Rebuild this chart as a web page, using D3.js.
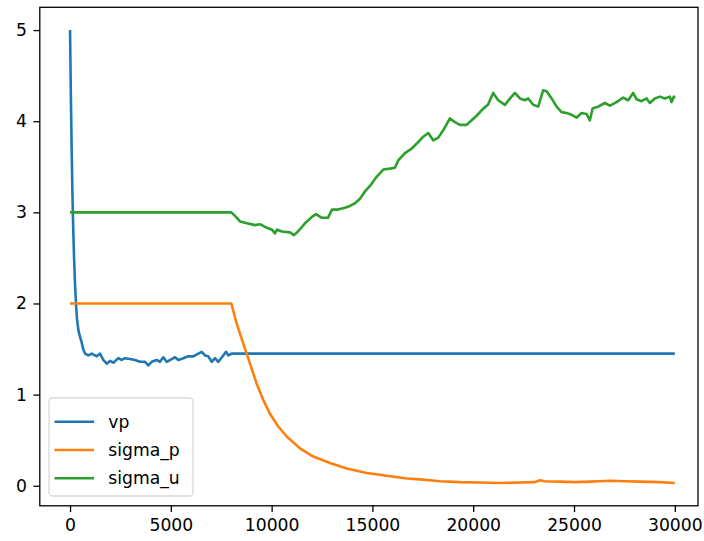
<!DOCTYPE html>
<html>
<head>
<meta charset="utf-8">
<script src="https://cdn.jsdelivr.net/npm/d3@7"></script>
<style>
  html, body { margin: 0; padding: 0; background: #fff; }
  svg { display: block; }
  text { font-family: "DejaVu Sans", sans-serif; }
</style>
</head>
<body>
<svg id="chart" width="704" height="541"></svg>
<script>
// vp: fast decay from 5, noisy plateau, then held constant
const vpX = [0, 40, 80, 120, 160, 200, 250, 300, 350, 420, 500, 580, 650, 744, 907, 1076, 1324, 1488, 1651, 1820, 1984, 2147, 2395, 2564, 2727, 2975, 3223, 3471, 3719, 3883, 4052, 4300, 4463, 4627, 4795, 5043, 5207, 5371, 5619, 5866, 6115, 6362, 6531, 6695, 6858, 7027, 7191, 7354, 7602, 7736, 7850, 8019, 30000];
const vpY = [5.0, 4.3, 3.7, 3.2, 2.8, 2.5, 2.2, 1.98, 1.82, 1.70, 1.63, 1.57, 1.50, 1.45, 1.43, 1.45, 1.42, 1.45, 1.38, 1.34, 1.37, 1.35, 1.40, 1.38, 1.40, 1.39, 1.38, 1.36, 1.36, 1.32, 1.36, 1.38, 1.36, 1.41, 1.36, 1.39, 1.41, 1.38, 1.40, 1.42, 1.42, 1.45, 1.47, 1.43, 1.42, 1.36, 1.40, 1.36, 1.43, 1.47, 1.43, 1.45, 1.45];

// sigma_p: constant at 2, then decays toward zero
const sigmaPX = [0, 8000, 8267, 8594, 8926, 9258, 9586, 9918, 10330, 10746, 11406, 12065, 12893, 13722, 14714, 15705, 16697, 17357, 18350, 19340, 20330, 21320, 22316, 23050, 23307, 23550, 24300, 25050, 25790, 26280, 26780, 27520, 28270, 29260, 30000];
const sigmaPY = [2.0, 2.0, 1.78, 1.56, 1.34, 1.12, 0.94, 0.79, 0.65, 0.54, 0.41, 0.32, 0.25, 0.19, 0.14, 0.11, 0.08, 0.07, 0.05, 0.04, 0.035, 0.03, 0.035, 0.04, 0.06, 0.05, 0.045, 0.04, 0.045, 0.05, 0.055, 0.05, 0.045, 0.04, 0.03];

// sigma_u: constant at 3, then wanders upward
const sigmaUX = [0, 8000, 8232, 8430, 8777, 9174, 9422, 9670, 10017, 10166, 10265, 10513, 10910, 11108, 11306, 11654, 12001, 12199, 12497, 12794, 12993, 13290, 13637, 13885, 14133, 14381, 14629, 14877, 15209, 15537, 15869, 16117, 16281, 16613, 16945, 17272, 17520, 17768, 18016, 18264, 18512, 18844, 19092, 19340, 19672, 19920, 20168, 20416, 20664, 20729, 20991, 21240, 21572, 21904, 22068, 22316, 22563, 22727, 22975, 23223, 23471, 23640, 23888, 24136, 24384, 24632, 24880, 25128, 25376, 25624, 25787, 25921, 26199, 26531, 26779, 27111, 27438, 27686, 27934, 28103, 28351, 28599, 28762, 29010, 29258, 29506, 29754, 29838, 29952, 30000];
const sigmaUY = [3.0, 3.0, 2.95, 2.90, 2.88, 2.86, 2.87, 2.84, 2.81, 2.77, 2.81, 2.79, 2.78, 2.75, 2.79, 2.88, 2.95, 2.98, 2.94, 2.94, 3.03, 3.03, 3.05, 3.07, 3.10, 3.15, 3.23, 3.29, 3.39, 3.47, 3.48, 3.49, 3.57, 3.65, 3.70, 3.77, 3.83, 3.87, 3.79, 3.82, 3.90, 4.03, 3.99, 3.96, 3.96, 4.01, 4.06, 4.12, 4.17, 4.18, 4.31, 4.23, 4.18, 4.27, 4.31, 4.25, 4.23, 4.25, 4.18, 4.16, 4.34, 4.33, 4.25, 4.16, 4.10, 4.09, 4.07, 4.04, 4.09, 4.08, 4.01, 4.14, 4.16, 4.20, 4.17, 4.21, 4.26, 4.23, 4.31, 4.24, 4.22, 4.25, 4.20, 4.25, 4.27, 4.25, 4.27, 4.21, 4.27, 4.25];

const seriesNames = ["vp", "sigma_p", "sigma_u"];
const seriesColors = ["#1f77b4", "#ff7f0e", "#2ca02c"];
const xTicks = [0, 5000, 10000, 15000, 20000, 25000, 30000];
const yTicks = [0, 1, 2, 3, 4, 5];

const series = [
  { name: seriesNames[0], xs: vpX, ys: vpY, color: seriesColors[0] },
  { name: seriesNames[1], xs: sigmaPX, ys: sigmaPY, color: seriesColors[1] },
  { name: seriesNames[2], xs: sigmaUX, ys: sigmaUY, color: seriesColors[2] }
];

const svg = d3.select("#chart");
const plot = { left: 39.8, right: 698, top: 7.3, bottom: 505.8 };
const fontSize = 17.2;
const tickLen = 6.3;
const tickPad = 6.5;

const x = d3.scaleLinear().domain([-1500, 31150]).range([plot.left, plot.right]);
const y = d3.scaleLinear().domain([-0.22, 5.25]).range([plot.bottom, plot.top]);

// series lines, clipped to the axes box
svg.append("clipPath").attr("id", "plotClip")
  .append("rect")
  .attr("x", plot.left).attr("y", plot.top)
  .attr("width", plot.right - plot.left).attr("height", plot.bottom - plot.top);
const gLines = svg.append("g").attr("clip-path", "url(#plotClip)");

const line = d3.line().x(d => x(d[0])).y(d => y(d[1]));
series.forEach(s => {
  gLines.append("path")
    .datum(s.xs.map((v, i) => [v, s.ys[i]]))
    .attr("fill", "none")
    .attr("stroke", s.color)
    .attr("stroke-width", 2.6)
    .attr("stroke-linejoin", "round")
    .attr("stroke-linecap", "butt")
    .attr("d", line);
});

// axes
const xAxis = d3.axisBottom(x).tickValues(xTicks).tickFormat(d3.format("d"))
  .tickSize(tickLen).tickPadding(tickPad);
const yAxis = d3.axisLeft(y).tickValues(yTicks).tickFormat(d3.format("d"))
  .tickSize(tickLen).tickPadding(tickPad);

const gx = svg.append("g").attr("transform", `translate(0,${plot.bottom})`).call(xAxis);
const gy = svg.append("g").attr("transform", `translate(${plot.left},0)`).call(yAxis);

[gx, gy].forEach(g => {
  g.select(".domain").remove();
  g.selectAll(".tick line").attr("stroke", "#000").attr("stroke-width", 1.3);
  g.selectAll(".tick text")
    .attr("fill", "#000")
    .style("font-family", "'DejaVu Sans', sans-serif")
    .style("font-size", fontSize + "px");
});

// axes frame
svg.append("rect")
  .attr("x", plot.left).attr("y", plot.top)
  .attr("width", plot.right - plot.left).attr("height", plot.bottom - plot.top)
  .attr("fill", "none")
  .attr("stroke", "#000")
  .attr("stroke-width", 1.3);

// legend
const legend = { x: 49, y: 398, w: 144, h: 98, rowGap: 28.3, firstRow: 421.7 };
const gLeg = svg.append("g");
gLeg.append("rect")
  .attr("x", legend.x).attr("y", legend.y)
  .attr("width", legend.w).attr("height", legend.h)
  .attr("rx", 3.5).attr("ry", 3.5)
  .attr("fill", "rgba(255,255,255,0.8)")
  .attr("stroke", "#d9d9d9")
  .attr("stroke-width", 1.3);

series.forEach((s, i) => {
  const cy = legend.firstRow + i * legend.rowGap;
  gLeg.append("line")
    .attr("x1", 54.5).attr("x2", 94)
    .attr("y1", cy).attr("y2", cy)
    .attr("stroke", s.color)
    .attr("stroke-width", 2.6);
  gLeg.append("text")
    .attr("x", 108.3).attr("y", cy)
    .attr("dy", "0.36em")
    .attr("fill", "#000")
    .style("font-size", fontSize + "px")
    .text(s.name);
});
</script>
</body>
</html>
